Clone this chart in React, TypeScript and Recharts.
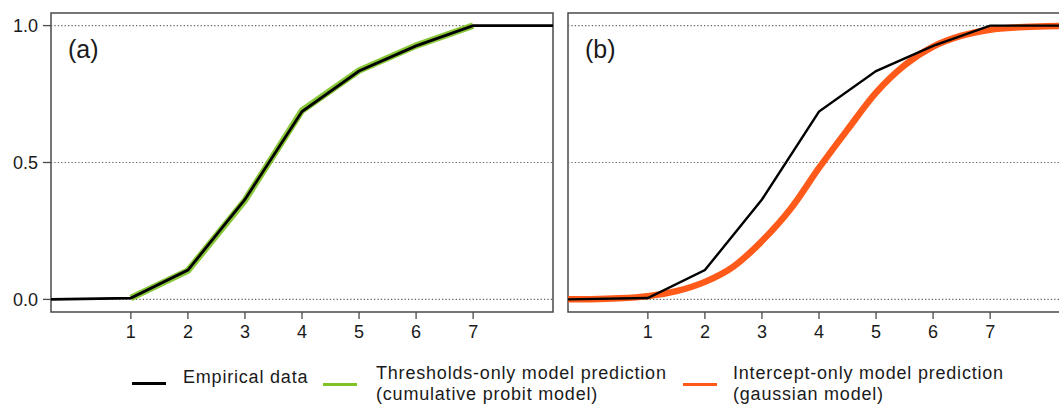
import { Line, LineChart, ReferenceArea, ReferenceLine, XAxis, YAxis } from "recharts";

// empirical cumulative proportions and the two model predictions
const xEmpirical = [-0.4, 1, 2, 3, 4, 5, 6, 7, 8.4];
const empirical = [0, 0.005, 0.107, 0.365, 0.686, 0.834, 0.926, 1, 1];
const thresholdsOnly = [null, 0.005, 0.105, 0.362, 0.69, 0.836, 0.927, 1, null];

const xGaussian = [-0.4, 0, 0.5, 1, 1.5, 2, 2.5, 3, 3.5, 4, 4.5, 5, 5.5, 6, 6.5, 7, 7.5, 8, 8.4];
const interceptOnly = [
  0.0005, 0.001, 0.004, 0.012, 0.03, 0.064, 0.12, 0.213, 0.33, 0.48, 0.62, 0.755, 0.855, 0.923, 0.963,
  0.985, 0.994, 0.998, 0.999,
];

const xTicks = [1, 2, 3, 4, 5, 6, 7];
const yTicks = [0, 0.5, 1];
const xDomain: [number, number] = [-0.4, 8.4];
const yDomain: [number, number] = [-0.046, 1.046];

const empiricalData = xEmpirical.map((x, i) => ({ x, emp: empirical[i], thr: thresholdsOnly[i] }));
const gaussianData = xGaussian.map((x, i) => ({ x, gau: interceptOnly[i] }));

const font = "'Liberation Sans', Arial, sans-serif";
const frame = "#4a4a4a";
const tickStyle = { fontSize: 18, fill: "#1a1a1a" };

function Grid() {
  return yTicks.map((y) => (
    <ReferenceLine key={y} y={y} stroke="#666" strokeWidth={1.2} strokeDasharray="1.3 2.1" />
  ));
}

function Panel({ which }: { which: "a" | "b" }) {
  const left = which === "a";
  return (
    <LineChart
      width={left ? 560 : 520}
      height={345}
      margin={left ? { top: 13, right: 7, bottom: 0, left: 0 } : { top: 13, right: 10, bottom: 0, left: 8 }}
      style={{ position: "absolute", left: left ? 0 : 560, top: 0 }}
    >
      <XAxis
        dataKey="x"
        type="number"
        domain={xDomain}
        ticks={xTicks}
        allowDataOverflow
        height={33}
        axisLine={false}
        tickLine={{ stroke: frame, strokeWidth: 1.3 }}
        tickSize={7}
        tickMargin={6}
        tick={tickStyle}
      />
      <YAxis
        type="number"
        domain={yDomain}
        ticks={yTicks}
        allowDataOverflow
        hide={!left}
        width={51}
        axisLine={false}
        tickLine={{ stroke: frame, strokeWidth: 1.3 }}
        tickSize={8}
        tickMargin={5}
        tick={tickStyle}
        tickFormatter={(v: number) => v.toFixed(1)}
      />
      {Grid()}
      {left ? (
        <Line
          data={empiricalData}
          dataKey="thr"
          type="linear"
          stroke="#7ec224"
          strokeWidth={6.5}
          strokeOpacity={0.9}
          dot={false}
          activeDot={false}
          isAnimationActive={false}
        />
      ) : (
        <Line
          data={gaussianData}
          dataKey="gau"
          type="monotone"
          stroke="#ff5a1a"
          strokeWidth={6.5}
          dot={false}
          activeDot={false}
          isAnimationActive={false}
        />
      )}
      <Line
        data={empiricalData}
        dataKey="emp"
        type="linear"
        stroke="#000"
        strokeWidth={left ? 2.8 : 2.4}
        dot={false}
        activeDot={false}
        isAnimationActive={false}
      />
      <ReferenceArea
        x1={xDomain[0]}
        x2={xDomain[1]}
        y1={yDomain[0]}
        y2={yDomain[1]}
        fill="none"
        fillOpacity={0}
        stroke={frame}
        strokeWidth={1.5}
      />
    </LineChart>
  );
}

const legendText = {
  position: "absolute" as const,
  fontSize: 18,
  letterSpacing: 0.8,
  lineHeight: "21px",
  color: "#1a1a1a",
  whiteSpace: "nowrap" as const,
};
const swatch = (left: number, top: number, color: string) => (
  <div style={{ position: "absolute", left, top, width: 34, height: 3, background: color }} />
);

export default function App() {
  return (
    <div
      style={{
        position: "absolute",
        left: 0,
        top: 0,
        width: 1059,
        height: 408,
        overflow: "hidden",
        background: "#fff",
        fontFamily: font,
      }}
    >
      <Panel which="a" />
      <Panel which="b" />
      <div style={{ position: "absolute", left: 68, top: 37, fontSize: 25, lineHeight: 1, color: "#1a1a1a" }}>(a)</div>
      <div style={{ position: "absolute", left: 585, top: 37, fontSize: 25, lineHeight: 1, color: "#1a1a1a" }}>(b)</div>

      {swatch(132, 382, "#000")}
      <div style={{ ...legendText, left: 183, top: 367 }}>Empirical data</div>
      {swatch(323, 383, "#7ec224")}
      <div style={{ ...legendText, left: 376, top: 363 }}>
        Thresholds-only model prediction
        <br />
        (cumulative probit model)
      </div>
      {swatch(683, 383, "#ff5a1a")}
      <div style={{ ...legendText, left: 733, top: 363 }}>
        Intercept-only model prediction
        <br />
        (gaussian model)
      </div>
    </div>
  );
}
